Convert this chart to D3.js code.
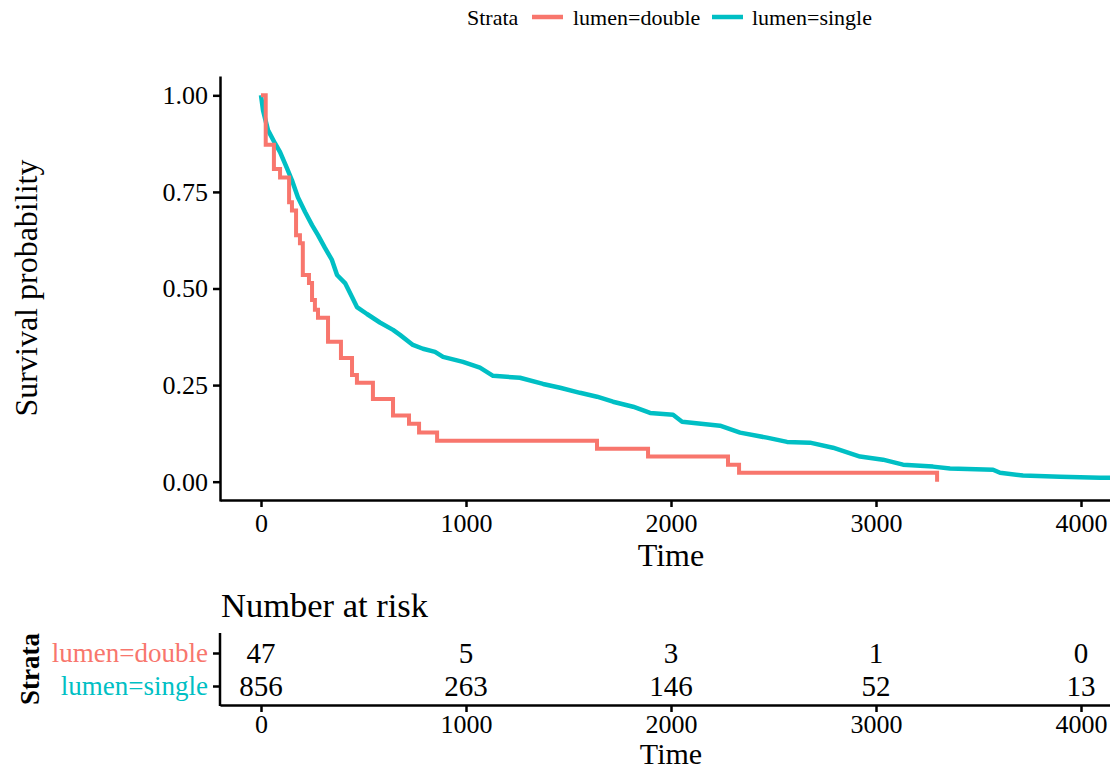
<!DOCTYPE html>
<html>
<head>
<meta charset="utf-8">
<script src="https://cdn.jsdelivr.net/npm/d3@7"></script>
<style>
  body { margin: 0; background: #fff; }
  svg { display: block; }
  text { font-family: "Liberation Serif", "Times New Roman", serif; }
</style>
</head>
<body>
<svg id="chart" width="1110" height="772"></svg>
<script>
// ---------------- DATA ----------------
const strata = ["lumen=double", "lumen=single"];
const colors = ["#F8766D", "#00BFC4"];

// Kaplan-Meier estimate, lumen=double (time, survival after event)
const doubleTime = [0, 23, 63, 93, 137, 151, 171, 190, 204, 234, 249, 263, 278, 327, 390, 444, 468, 546, 644, 722, 771, 859, 1639, 1888, 2278, 2332, 3298];
const doubleSurv = [1.0, 0.872, 0.809, 0.787, 0.723, 0.702, 0.638, 0.617, 0.535, 0.514, 0.470, 0.445, 0.424, 0.362, 0.320, 0.276, 0.256, 0.214, 0.171, 0.150, 0.127, 0.106, 0.085, 0.065, 0.044, 0.023, 0.0];

// Kaplan-Meier estimate, lumen=single (dense steps, sampled)
const singleTime = [0, 10, 34, 68, 93, 127, 151, 180, 215, 249, 278, 312, 346, 371, 410, 444, 468, 517, 580, 644, 678, 741, 790, 849, 888, 985, 1068, 1132, 1263, 1376, 1459, 1556, 1639, 1717, 1815, 1898, 2010, 2054, 2239, 2337, 2468, 2566, 2678, 2790, 2922, 3034, 3132, 3278, 3361, 3571, 3605, 3717, 3898, 4093, 4160];
const singleSurv = [1.0, 0.961, 0.910, 0.876, 0.853, 0.811, 0.780, 0.736, 0.698, 0.664, 0.638, 0.605, 0.574, 0.535, 0.514, 0.478, 0.452, 0.434, 0.412, 0.393, 0.380, 0.354, 0.344, 0.336, 0.323, 0.310, 0.295, 0.274, 0.269, 0.253, 0.243, 0.230, 0.220, 0.207, 0.194, 0.178, 0.173, 0.155, 0.145, 0.127, 0.114, 0.103, 0.101, 0.088, 0.065, 0.057, 0.044, 0.039, 0.034, 0.031, 0.023, 0.016, 0.013, 0.010, 0.010];

const xTicks = [0, 1000, 2000, 3000, 4000];
const yTicks = [0, 0.25, 0.5, 0.75, 1.0];
const yTickLabels = ["0.00", "0.25", "0.50", "0.75", "1.00"];

// number at risk at xTicks
const riskDouble = [47, 5, 3, 1, 0];
const riskSingle = [856, 263, 146, 52, 13];

// ---------------- DRAW ----------------
const FONT = '"Liberation Serif", "Times New Roman", serif';
const svg = d3.select("#chart");

const x = d3.scaleLinear().domain([-200, 4200]).range([220, 1122]);
const y = d3.scaleLinear().domain([-0.05, 1.05]).range([501, 76]);

// legend
const leg = svg.append("g");
leg.append("text").attr("x", 467).attr("y", 25).style("font-size", "22px").text("Strata");
const legItems = [{x: 532, tx: 573}, {x: 712, tx: 752}];
strata.forEach((s, i) => {
  leg.append("line").attr("x1", legItems[i].x).attr("x2", legItems[i].x + 31)
    .attr("y1", 17).attr("y2", 17).attr("stroke", colors[i]).attr("stroke-width", 4.5);
  leg.append("text").attr("x", legItems[i].tx).attr("y", 25).style("font-size", "22px").text(s);
});

// curves
const toPts = (t, s) => t.map((v, i) => [v, s[i]]);
const stepLine = d3.line().x(d => x(d[0])).y(d => y(d[1])).curve(d3.curveStepAfter);
const linLine = d3.line().x(d => x(d[0])).y(d => y(d[1]));

svg.append("path").datum(toPts(singleTime, singleSurv))
  .attr("d", linLine).attr("fill", "none").attr("stroke", colors[1])
  .attr("stroke-width", 4.5).attr("stroke-linejoin", "round");
svg.append("path").datum(toPts(doubleTime, doubleSurv))
  .attr("d", stepLine).attr("fill", "none").attr("stroke", colors[0])
  .attr("stroke-width", 4);

function styleAxis(g, fs) {
  g.select(".domain").attr("stroke", "#000").attr("stroke-width", 2.5);
  g.selectAll(".tick line").attr("stroke", "#000").attr("stroke-width", 2.5);
  g.selectAll(".tick text").style("font-size", fs).style("fill", "#000").style("font-family", FONT);
}

// y axis
const yAxisG = svg.append("g").attr("transform", "translate(220,0)")
  .call(d3.axisLeft(y).tickValues(yTicks).tickFormat((d, i) => yTickLabels[i]).tickSize(7).tickSizeOuter(0).tickPadding(5));
styleAxis(yAxisG, "26px");

// x axis
const xAxisG = svg.append("g").attr("transform", "translate(0,500)")
  .call(d3.axisBottom(x).tickValues(xTicks).tickFormat(d3.format("d")).tickSize(7).tickSizeOuter(0).tickPadding(7));
styleAxis(xAxisG, "26px");

svg.append("text").attr("x", 671).attr("y", 566).attr("text-anchor", "middle")
  .style("font-size", "32px").text("Time");
svg.append("text").attr("transform", "translate(37,288) rotate(-90)").attr("text-anchor", "middle")
  .style("font-size", "32px").text("Survival probability");

// risk table
svg.append("text").attr("x", 221).attr("y", 617).style("font-size", "34.5px").text("Number at risk");

const riskY = d3.scalePoint().domain(strata).range([653, 686]);

const riskYAxis = svg.append("g").attr("transform", "translate(220,0)")
  .call(d3.axisLeft(riskY).tickSize(7).tickSizeOuter(0).tickPadding(5));
riskYAxis.select(".domain").remove();
riskYAxis.selectAll(".tick line").attr("stroke", "#000").attr("stroke-width", 2.5);
riskYAxis.selectAll(".tick text").style("font-size", "27px").style("font-family", FONT)
  .style("fill", (d, i) => colors[i]);
svg.append("line").attr("x1", 220).attr("x2", 220).attr("y1", 633).attr("y2", 706)
  .attr("stroke", "#000").attr("stroke-width", 2.5);

const riskXAxis = svg.append("g").attr("transform", "translate(0,705)")
  .call(d3.axisBottom(x).tickValues(xTicks).tickFormat(d3.format("d")).tickSize(7).tickSizeOuter(0).tickPadding(3));
styleAxis(riskXAxis, "26px");

const riskRows = [riskDouble, riskSingle];
riskRows.forEach((row, r) => {
  svg.append("g").selectAll("text").data(row).join("text")
    .attr("x", (d, i) => x(xTicks[i])).attr("y", riskY(strata[r]))
    .attr("dy", "0.35em").attr("text-anchor", "middle")
    .style("font-size", "29px").text(d => d);
});

svg.append("text").attr("x", 671).attr("y", 764).attr("text-anchor", "middle")
  .style("font-size", "30px").text("Time");
svg.append("text").attr("transform", "translate(39,669) rotate(-90)").attr("text-anchor", "middle")
  .style("font-size", "27px").style("font-weight", "bold").text("Strata");
</script>
</body>
</html>
